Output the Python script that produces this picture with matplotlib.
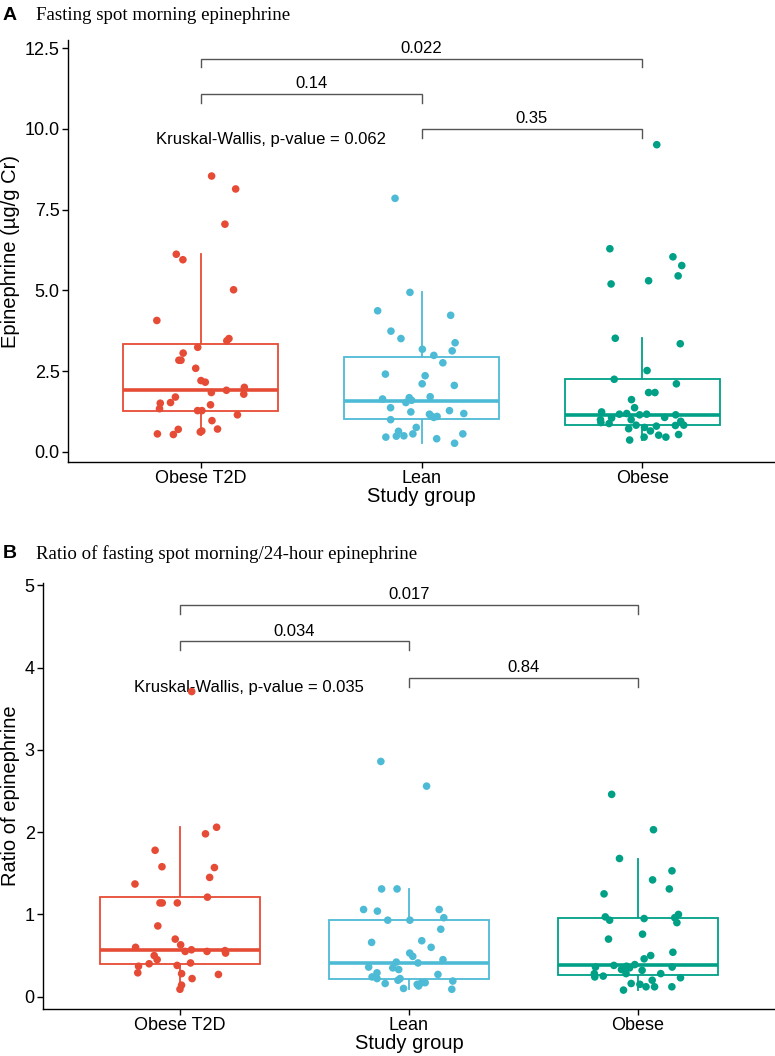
import matplotlib.pyplot as plt
import numpy as np

plt.rcParams['font.family'] = ['Liberation Sans', 'DejaVu Sans']

groups = ["Obese T2D", "Lean", "Obese"]
colors = ["#E64B35", "#4DBBD5", "#00A087"]

# panel A: fasting spot morning epinephrine (ug/g Cr)
epi_t2d = [8.54, 8.14, 7.05, 6.12, 5.95, 5.02, 4.07, 3.51, 3.44, 3.24, 3.06, 2.84,
           2.84, 2.59, 2.21, 2.16, 2.00, 1.91, 1.84, 1.79, 1.70, 1.53, 1.46, 1.51,
           1.34, 1.28, 1.28, 1.15, 0.97, 0.65, 0.62, 0.70, 0.56, 0.54, 0.71]
epi_lean = [7.85, 4.94, 4.37, 4.23, 3.74, 3.51, 3.38, 3.18, 3.13, 2.99, 2.76, 2.41,
            2.36, 2.11, 2.06, 1.68, 1.71, 1.64, 1.60, 1.53, 1.37, 1.28, 1.24, 1.19,
            1.17, 1.12, 1.07, 1.10, 1.00, 0.76, 0.64, 0.56, 0.46, 0.56, 0.49, 0.41,
            0.50, 0.27]
epi_obese = [9.51, 6.29, 6.04, 5.77, 5.45, 5.30, 5.20, 3.52, 3.35, 2.52, 2.25, 2.11,
             1.84, 1.84, 1.62, 1.37, 1.17, 1.24, 1.15, 1.15, 1.17, 1.19, 1.07, 1.00,
             1.00, 0.91, 0.88, 0.83, 0.80, 0.83, 0.76, 0.82, 0.72, 0.65, 0.52, 0.37,
             0.46, 0.46, 0.54, 1.05, 0.95]

# panel B: ratio of spot morning / 24-hour epinephrine
ratio_t2d = [3.71, 2.06, 1.98, 1.78, 1.58, 1.57, 1.37, 1.45, 1.21, 1.14, 1.14, 1.14,
             0.86, 0.70, 0.63, 0.55, 0.53, 0.55, 0.57, 0.56, 0.50, 0.40, 0.41, 0.37,
             0.29, 0.28, 0.38, 0.27, 0.22, 0.14, 0.09, 0.45, 0.60]
ratio_lean = [2.86, 2.56, 1.31, 1.31, 1.06, 1.06, 1.04, 0.93, 0.96, 0.93, 0.82, 0.68,
              0.60, 0.66, 0.49, 0.53, 0.45, 0.42, 0.41, 0.36, 0.33, 0.35, 0.29, 0.27,
              0.20, 0.19, 0.15, 0.13, 0.17, 0.17, 0.22, 0.10, 0.16, 0.22, 0.24, 0.09]
ratio_obese = [2.46, 2.03, 1.68, 1.53, 1.42, 1.25, 1.31, 1.00, 0.96, 0.95, 0.97, 0.93,
               0.90, 0.76, 0.70, 0.54, 0.50, 0.46, 0.37, 0.35, 0.38, 0.36, 0.36, 0.39,
               0.32, 0.33, 0.28, 0.28, 0.28, 0.24, 0.25, 0.23, 0.20, 0.16, 0.15, 0.12,
               0.08, 0.12, 0.12]

# pairwise p-values: (group i, group j, bracket height, label)
pairs_a = [(1, 3, 12.17, "0.022"), (1, 2, 11.08, "0.14"), (2, 3, 10.0, "0.35")]
pairs_b = [(1, 3, 4.76, "0.017"), (1, 2, 4.32, "0.034"), (2, 3, 3.88, "0.84")]

W, H = 775, 1056
fig = plt.figure(figsize=(W / 100, H / 100), dpi=100)


def px_axes(left, top, right, bottom):
    return fig.add_axes([left / W, 1 - bottom / H, (right - left) / W, (bottom - top) / H])


def draw_panel(ax, data, pairs, tip, kw_text, kw_y, ylim, yticks, yticklabels, ylabel):
    rng = np.random.default_rng(7)
    bp = ax.boxplot(data, positions=[1, 2, 3], widths=0.7, showfliers=False,
                    patch_artist=True, whis=1.5)
    for i, c in enumerate(colors):
        bp['boxes'][i].set(facecolor='white', edgecolor=c, linewidth=1.3, zorder=2)
        bp['medians'][i].set(color=c, linewidth=2.6, zorder=3)
        for w in bp['whiskers'][2 * i:2 * i + 2]:
            w.set(color=c, linewidth=1.3, zorder=1)
        for cap in bp['caps'][2 * i:2 * i + 2]:
            cap.set_visible(False)
    for i, (vals, c) in enumerate(zip(data, colors)):
        x = i + 1 + rng.uniform(-0.2, 0.2, len(vals))
        ax.scatter(x, vals, s=30, color=c, edgecolors='none', zorder=4)

    for x1, x2, y, lab in pairs:
        ax.plot([x1, x1, x2, x2], [y - tip, y, y, y - tip], color='#555555', lw=1.0,
                solid_joinstyle='miter', zorder=5)
        ax.text((x1 + x2) / 2, y + tip * 0.3, lab, ha='center', va='bottom', fontsize=12)
    ax.text(0.8, kw_y, kw_text, ha='left', va='center', fontsize=12)

    ax.set_xlim(0.4, 3.6)
    ax.set_ylim(*ylim)
    ax.set_xticks([1, 2, 3])
    ax.set_xticklabels(groups, fontsize=13)
    ax.set_yticks(yticks)
    ax.set_yticklabels(yticklabels, fontsize=13)
    ax.set_xlabel("Study group", fontsize=14.5, labelpad=0)
    ax.set_ylabel(ylabel, fontsize=14.5, labelpad=3)
    for s in ['top', 'right']:
        ax.spines[s].set_visible(False)
    for s in ['left', 'bottom']:
        ax.spines[s].set_linewidth(1.0)
    ax.tick_params(direction='out', length=4, width=1.0, colors='black', pad=2)


ax_a = px_axes(68, 40, 775, 462)
draw_panel(ax_a, [epi_t2d, epi_lean, epi_obese], pairs_a, 0.27,
           "Kruskal-Wallis, p-value = 0.062", 9.66, (-0.31, 12.75),
           [0, 2.5, 5, 7.5, 10, 12.5], ["0.0", "2.5", "5.0", "7.5", "10.0", "12.5"],
           "Epinephrine (µg/g Cr)")

ax_b = px_axes(43, 583, 775, 1009)
draw_panel(ax_b, [ratio_t2d, ratio_lean, ratio_obese], pairs_b, 0.11,
           "Kruskal-Wallis, p-value = 0.035", 3.76, (-0.15, 5.03),
           [0, 1, 2, 3, 4, 5], ["0", "1", "2", "3", "4", "5"],
           "Ratio of epinephrine")

fig.text(3 / W, 1 - 15 / H, "A", fontsize=14, fontweight='bold', va='center', ha='left')
fig.text(36 / W, 1 - 16 / H, "Fasting spot morning epinephrine", fontsize=13.6,
         family='Liberation Serif', va='center', ha='left')
fig.text(3 / W, 1 - 553 / H, "B", fontsize=14, fontweight='bold', va='center', ha='left')
fig.text(36 / W, 1 - 554 / H, "Ratio of fasting spot morning/24-hour epinephrine", fontsize=13.6,
         family='Liberation Serif', va='center', ha='left')

fig.savefig("out.png", dpi=100)
